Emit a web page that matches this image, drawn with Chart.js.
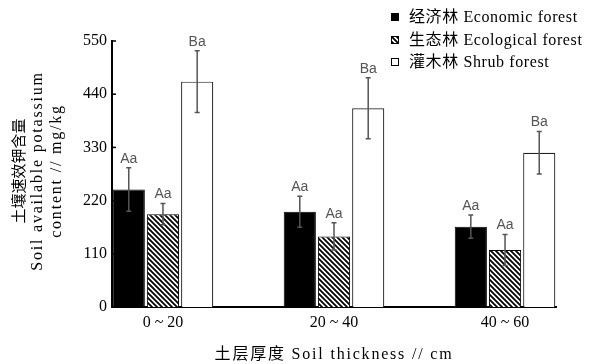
<!DOCTYPE html>
<html>
<head>
<meta charset="utf-8">
<script src="https://cdn.jsdelivr.net/npm/chart.js@4"></script>
<style>
  body { margin: 0; background: #fff; }
</style>
</head>
<body>
<canvas id="chart" width="595" height="364"></canvas>
<script>
const categories = ['0 ~ 20', '20 ~ 40', '40 ~ 60'];
const seriesNames = ['经济林 Economic forest', '生态林 Ecological forest', '灌木林 Shrub forest'];

const economic = [243, 197, 166];
const economicErr = [45, 32, 24];
const economicLetters = ['Aa', 'Aa', 'Aa'];

const ecological = [192, 146, 118];
const ecologicalErr = [22, 28, 32];
const ecologicalLetters = ['Aa', 'Aa', 'Aa'];

const shrub = [466, 411, 319];
const shrubErr = [64, 63, 44];
const shrubLetters = ['Ba', 'Ba', 'Ba'];

const yTicks = [0, 110, 220, 330, 440, 550];

const serif = '"Liberation Serif", "Noto Sans CJK SC", serif';

// diagonal hatch for the ecological forest bars
function makeHatch() {
  const c = document.createElement('canvas');
  c.width = 5;
  c.height = 5;
  const g = c.getContext('2d');
  g.fillStyle = '#fff';
  g.fillRect(0, 0, 5, 5);
  g.strokeStyle = '#000';
  g.lineWidth = 1.8;
  g.beginPath();
  g.moveTo(-1, -1); g.lineTo(6, 6);
  g.moveTo(-1, 4); g.lineTo(1, 6);
  g.moveTo(4, -1); g.lineTo(6, 1);
  g.stroke();
  return g.createPattern(c, 'repeat');
}
const hatch = makeHatch();

const toPoints = (vals) => vals.map((v, i) => ({ x: i, y: v }));

const errorBars = {
  id: 'errorBars',
  afterDatasetsDraw(chart) {
    const { ctx, scales: { y } } = chart;
    ctx.save();
    chart.data.datasets.forEach((ds, di) => {
      const meta = chart.getDatasetMeta(di);
      meta.data.forEach((bar, i) => {
        const v = ds.data[i].y;
        const e = ds.errors[i];
        const top = y.getPixelForValue(v + e);
        const bot = y.getPixelForValue(v - e);
        ctx.strokeStyle = '#555';
        ctx.lineWidth = 1.5;
        ctx.beginPath();
        ctx.moveTo(bar.x, top); ctx.lineTo(bar.x, bot);
        ctx.moveTo(bar.x - 2.5, top); ctx.lineTo(bar.x + 2.5, top);
        ctx.moveTo(bar.x - 2.5, bot); ctx.lineTo(bar.x + 2.5, bot);
        ctx.stroke();
        ctx.fillStyle = '#555';
        ctx.font = '14px "Liberation Sans", Arial, sans-serif';
        ctx.textAlign = 'center';
        ctx.textBaseline = 'bottom';
        ctx.fillText(ds.letters[i], bar.x, top - 2);
      });
    });
    ctx.restore();
  },
};

const decorations = {
  id: 'decorations',
  afterDraw(chart) {
    const { ctx, chartArea, scales: { y } } = chart;
    ctx.save();
    // inward y ticks
    ctx.strokeStyle = '#000';
    ctx.lineWidth = 1.5;
    yTicks.forEach((t) => {
      const py = y.getPixelForValue(t);
      ctx.beginPath();
      ctx.moveTo(chartArea.left, py);
      ctx.lineTo(chartArea.left + 4, py);
      ctx.stroke();
    });

    ctx.fillStyle = '#000';
    ctx.textAlign = 'center';
    ctx.textBaseline = 'middle';

    // y title, three lines
    const yc = 171;
    const lines = [
      { text: '土壤速效钾含量', x: 20, font: '15px ' + serif, sp: '0px' },
      { text: 'Soil available potassium', x: 38, font: '16px ' + serif, sp: '1.8px' },
      { text: 'content // mg/kg', x: 57, font: '16px ' + serif, sp: '1.8px' },
    ];
    lines.forEach((l) => {
      ctx.save();
      ctx.translate(l.x, yc);
      ctx.rotate(-Math.PI / 2);
      ctx.font = l.font;
      ctx.letterSpacing = l.sp;
      ctx.fillText(l.text, 0, 0);
      ctx.restore();
    });

    // x title
    ctx.font = '16px ' + serif;
    ctx.letterSpacing = '1.8px';
    ctx.fillText('土层厚度 Soil thickness // cm', (chartArea.left + chartArea.right) / 2, 355);

    // legend
    ctx.letterSpacing = '0.6px';
    ctx.textAlign = 'left';
    const rows = [17, 40, 62];
    chart.data.datasets.forEach((ds, i) => {
      const cy = rows[i];
      ctx.fillStyle = ds.backgroundColor;
      ctx.fillRect(391, cy - 4, 8, 8);
      ctx.strokeStyle = '#000';
      ctx.lineWidth = 1;
      ctx.strokeRect(391.5, cy - 3.5, 7, 7);
      ctx.fillStyle = '#000';
      ctx.font = '16px ' + serif;
      ctx.fillText(ds.label, 409, cy + 1);
    });
    ctx.restore();
  },
};

const config = {
  type: 'bar',
  data: {
    datasets: [
      {
        label: seriesNames[0],
        data: toPoints(economic),
        errors: economicErr,
        letters: economicLetters,
        backgroundColor: '#000',
        borderColor: '#000',
        borderWidth: 1,
      },
      {
        label: seriesNames[1],
        data: toPoints(ecological),
        errors: ecologicalErr,
        letters: ecologicalLetters,
        backgroundColor: hatch,
        borderColor: '#000',
        borderWidth: 1,
      },
      {
        label: seriesNames[2],
        data: toPoints(shrub),
        errors: shrubErr,
        letters: shrubLetters,
        backgroundColor: '#fff',
        borderColor: '#222',
        borderWidth: 1.2,
      },
    ],
  },
  options: {
    responsive: false,
    animation: false,
    categoryPercentage: 0.6,
    barPercentage: 0.94,
    layout: { padding: { top: 41, right: 39, left: 0, bottom: 0 } },
    scales: {
      x: {
        type: 'linear',
        offset: false,
        min: -0.298,
        max: 2.298,
        grid: { display: false, drawTicks: false },
        border: { color: '#000', width: 2 },
        afterBuildTicks(scale) {
          scale.ticks = categories.map((c, i) => ({ value: i }));
        },
        afterFit(scale) { scale.height = 57; },
        ticks: {
          padding: 6,
          color: '#000',
          font: { family: serif, size: 16 },
          callback: (v) => categories[v],
        },
      },
      y: {
        min: 0,
        max: 550,
        grid: { display: false, drawTicks: false },
        border: { color: '#000', width: 2 },
        afterBuildTicks(scale) {
          scale.ticks = yTicks.map((v) => ({ value: v }));
        },
        afterFit(scale) { scale.width = 112; },
        ticks: {
          padding: 5,
          color: '#000',
          font: { family: serif, size: 16 },
        },
      },
    },
    plugins: {
      legend: { display: false },
      tooltip: { enabled: false },
    },
  },
  plugins: [errorBars, decorations],
};

new Chart(document.getElementById('chart'), config);
</script>
</body>
</html>
